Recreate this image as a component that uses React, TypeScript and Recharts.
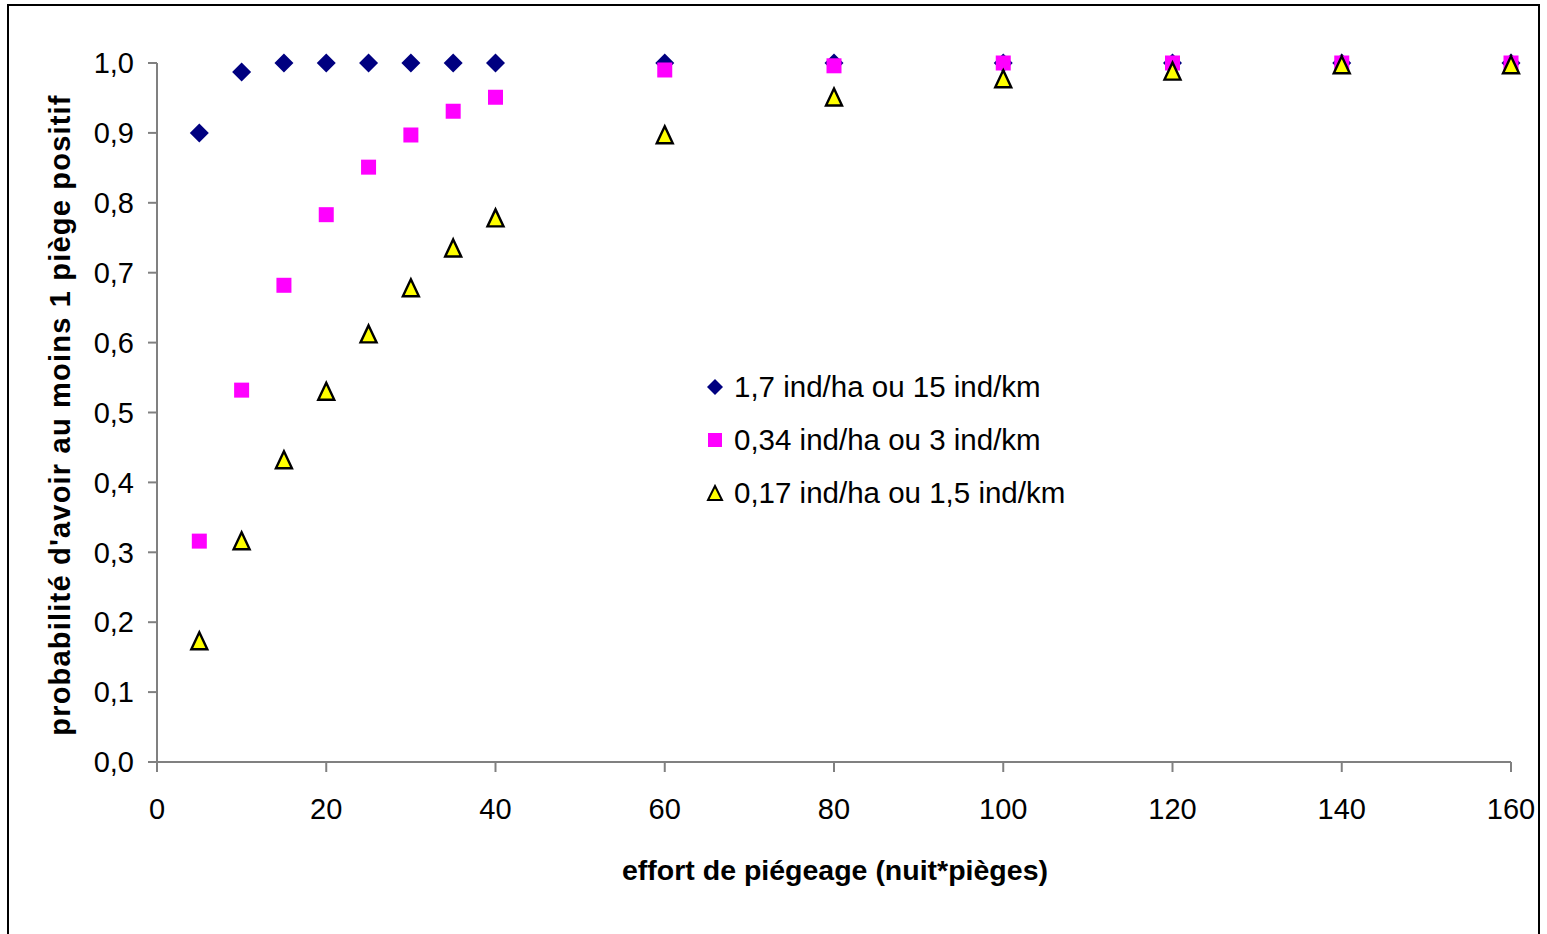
import React from 'react';
import { ScatterChart, Scatter, XAxis, YAxis, Legend } from 'recharts';

const efforts = [5, 10, 15, 20, 25, 30, 35, 40, 60, 80, 100, 120, 140, 160];
const highDensity = [0.9, 0.987, 1, 1, 1, 1, 1, 1, 1, 1, 1, 1, 1, 1];
const midDensity = [0.316, 0.532, 0.682, 0.783, 0.851, 0.897, 0.931, 0.951, 0.99, 0.996, 1, 1, 1, 1];
const lowDensity = [0.172, 0.315, 0.431, 0.529, 0.611, 0.677, 0.734, 0.777, 0.896, 0.95, 0.976, 0.987, 0.996, 0.996];

const xTicks = [0, 20, 40, 60, 80, 100, 120, 140, 160];
const yTicks = [0, 0.1, 0.2, 0.3, 0.4, 0.5, 0.6, 0.7, 0.8, 0.9, 1];

const seriesNames = [
  '1,7 ind/ha ou 15 ind/km',
  '0,34 ind/ha ou 3 ind/km',
  '0,17 ind/ha ou 1,5 ind/km',
];

const toPoints = (vals: number[]) => efforts.map((x, i) => ({ x, y: vals[i] }));

const FONT = '"Liberation Sans", Arial, sans-serif';

const Diamond = (props: any) => {
  const { cx, cy } = props;
  const r = 9.5;
  return <polygon points={`${cx},${cy - r} ${cx + r},${cy} ${cx},${cy + r} ${cx - r},${cy}`} fill="#000080" />;
};

const Square = (props: any) => {
  const { cx, cy } = props;
  return <rect x={cx - 7.5} y={cy - 7.5} width={15} height={15} fill="#FF00FF" />;
};

const Triangle = (props: any) => {
  const { cx, cy } = props;
  return (
    <polygon
      points={`${cx},${cy - 9.5} ${cx + 8},${cy + 7.5} ${cx - 8},${cy + 7.5}`}
      fill="#FFFF00"
      stroke="#000"
      strokeWidth={2.4}
      strokeLinejoin="miter"
    />
  );
};

const legendIcons = [
  <polygon key="d" points="9,1 17,9 9,17 1,9" fill="#000080" />,
  <rect key="s" x={2} y={2} width={14} height={14} fill="#FF00FF" />,
  <polygon key="t" points="9,2 16,16 2,16" fill="#FFFF00" stroke="#000" strokeWidth={2} />,
];

const LegendContent = () => (
  <div style={{ fontFamily: FONT, fontSize: 29.5, color: '#000' }}>
    {seriesNames.map((name, i) => (
      <div key={name} style={{ display: 'flex', alignItems: 'center', height: 53 }}>
        <svg width={18} height={18} style={{ marginRight: 10 }}>
          {legendIcons[i]}
        </svg>
        <span>{name}</span>
      </div>
    ))}
  </div>
);

export default function App() {
  return (
    <div style={{ position: 'relative', width: 1547, height: 934, background: '#fff', overflow: 'hidden' }}>
      <style>{`body{margin:0}`}</style>
      <div
        style={{
          position: 'absolute',
          left: 7,
          top: 4,
          width: 1533,
          height: 960,
          border: '2px solid #000',
          boxSizing: 'border-box',
        }}
      />
      <ScatterChart
        width={1547}
        height={934}
        margin={{ top: 63, right: 36, bottom: 142, left: 77 }}
        style={{ position: 'absolute', left: 0, top: 0 }}
      >
        <XAxis
          type="number"
          dataKey="x"
          domain={[0, 160]}
          ticks={xTicks}
          interval={0}
          height={30}
          tickSize={10}
          tickMargin={26}
          stroke="#808080"
          strokeWidth={2}
          tick={{ fill: '#000', fontSize: 29, fontFamily: FONT }}
          label={{
            content: () => (
              <text x={835} y={872} textAnchor="middle" dominantBaseline="middle" fontFamily={FONT} fontSize={28.5} fontWeight="bold" fill="#000">
                effort de piégeage (nuit*pièges)
              </text>
            ),
          }}
        />
        <YAxis
          type="number"
          dataKey="y"
          domain={[0, 1]}
          ticks={yTicks}
          interval={0}
          width={80}
          tickSize={9}
          tickMargin={14}
          stroke="#808080"
          strokeWidth={2}
          tickFormatter={(v: number) => v.toFixed(1).replace('.', ',')}
          tick={{ fill: '#000', fontSize: 29, fontFamily: FONT }}
          label={{
            content: () => (
              <text
                x={62}
                y={415}
                transform="rotate(-90 62 415)"
                textAnchor="middle"
                dominantBaseline="middle"
                fontFamily={FONT}
                fontSize={29}
                letterSpacing={1.2}
                fontWeight="bold"
                fill="#000"
              >
                probabilité d'avoir au moins 1 piège positif
              </text>
            ),
          }}
        />
        <Legend
          layout="vertical"
          align="center"
          verticalAlign="middle"
          content={<LegendContent />}
          wrapperStyle={{ position: 'absolute', left: 706, top: 360, width: 440, height: 160 }}
        />
        <Scatter name={seriesNames[0]} data={toPoints(highDensity)} shape={Diamond} isAnimationActive={false} />
        <Scatter name={seriesNames[1]} data={toPoints(midDensity)} shape={Square} isAnimationActive={false} />
        <Scatter name={seriesNames[2]} data={toPoints(lowDensity)} shape={Triangle} isAnimationActive={false} />
      </ScatterChart>
    </div>
  );
}
